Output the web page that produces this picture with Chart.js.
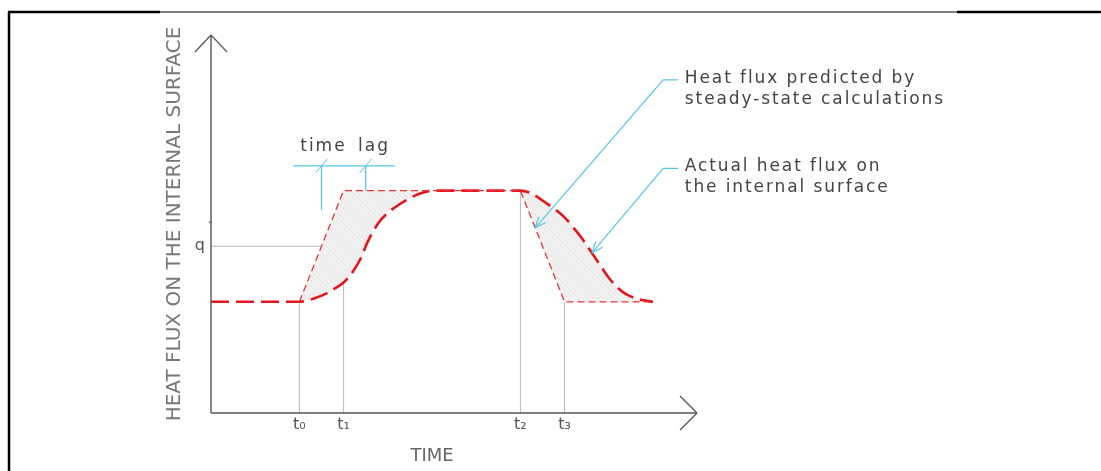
<!DOCTYPE html>
<html><head><meta charset="utf-8">
<script src="https://cdn.jsdelivr.net/npm/chart.js@4.4.1/dist/chart.umd.min.js"></script>
<style>html,body{margin:0;padding:0;background:#fff;}canvas{display:block;}</style>
</head><body>
<canvas id="c" width="1101" height="471"></canvas>
<script>
// ---------------- data (arbitrary units) ----------------
const tickTimes  = [20, 30, 70, 80];
const tickLabels = ['t\u2080', 't\u2081', 't\u2082', 't\u2083'];
const guideTops  = [30, 60, 60, 30];
const qLevel = 45;
const qLabel = 'q';
const xTitle = 'TIME';
const yTitle = 'HEAT FLUX ON THE INTERNAL SURFACE';

const steadyX = [20, 30, 70, 80, 100];
const steadyY = [30, 60, 60, 30, 30];

const actualX = [0, 20, 22, 24, 26, 28, 30, 32, 34, 35, 36, 38, 40, 42, 44, 46, 48, 50,
                 70, 72, 74, 76, 78, 80, 82, 84, 86, 88, 90, 92, 94, 96, 98, 100];
const actualY = [30, 30, 30.4, 31.2, 32.2, 33.6, 35.2, 38, 42, 45, 47.5, 51.5, 54, 55.8, 57.3, 58.6, 59.5, 60,
                 60, 59.5, 58.2, 56.5, 54.8, 52.8, 50, 47, 43.5, 40, 36.5, 33.8, 32, 31, 30.4, 30];

const lagTimes = [25, 35];          // steady / actual crossing of q
const lagBarY = 66.7, lagBarFrom = 18.6, lagBarTo = 41.6, lagTickBottom = 54.8;
const lagText = 'time lag';

const notes = [
  { lines: ['Heat flux predicted by', 'steady-state calculations'], textAt: [107.2, 90.2], lineGap: 5.7,
    leader: [[105.7, 89.9], [102.3, 89.9], [73.3, 49.9]] },
  { lines: ['Actual heat flux on', 'the internal surface'], textAt: [107.2, 66.4], lineGap: 5.7,
    leader: [[105.7, 66.0], [102.3, 66.0], [86.2, 43.2]] }
];

// ---------------- helpers ----------------
const pts = (xs, ys) => xs.map((v, i) => ({ x: v, y: ys[i] }));
const RED = '#e3161e', CYAN = '#55c6e8', GUIDE = '#b9b9b9';

function hatch() {
  const c = document.createElement('canvas'); c.width = 5; c.height = 5;
  const g = c.getContext('2d');
  g.fillStyle = '#f1f1f1'; g.fillRect(0, 0, 5, 5);
  g.strokeStyle = '#e0e0e0'; g.lineWidth = 0.7;
  g.beginPath(); g.moveTo(-1, -1); g.lineTo(6, 6); g.moveTo(-1, 4); g.lineTo(1, 6); g.moveTo(4, -1); g.lineTo(6, 1); g.stroke();
  return g.createPattern(c, 'repeat');
}

const guideSets = tickTimes.map((t, i) => ({
  data: [{ x: t, y: 0 }, { x: t, y: guideTops[i] }], borderColor: GUIDE, borderWidth: 1, fill: false
}));
guideSets.push({ data: [{ x: 0, y: qLevel }, { x: lagTimes[1], y: qLevel }], borderColor: GUIDE, borderWidth: 1, fill: false });

const lagSets = [
  { data: [{ x: lagBarFrom, y: lagBarY }, { x: lagBarTo, y: lagBarY }], borderColor: CYAN, borderWidth: 1.3, fill: false },
  ...lagTimes.map(t => ({ data: [{ x: t, y: lagTickBottom }, { x: t, y: lagBarY }], borderColor: CYAN, borderWidth: 1.3, fill: false }))
];

const deco = {
  id: 'deco',
  afterDraw(chart) {
    const { ctx, scales: { x, y } } = chart;
    const X = v => x.getPixelForValue(v), Y = v => y.getPixelForValue(v);
    const seg = (x1, y1, x2, y2, w, c) => { ctx.beginPath(); ctx.lineWidth = w; ctx.strokeStyle = c; ctx.moveTo(x1, y1); ctx.lineTo(x2, y2); ctx.stroke(); };
    ctx.save();
    ctx.lineCap = 'butt';
    // frame
    seg(9, 12, 9, 471, 2.5, '#000');
    seg(8, 12, 160, 12, 2.5, '#000');
    seg(160, 12, 957, 12, 1.2, '#000');
    seg(957, 12, 1101, 12, 2.5, '#000');
    // axes with arrows
    const x0 = X(0), y0 = Y(0), yTop = Y(y.max), xTip = x.right + 44;
    const AX = '#555';
    seg(x0, y0, x0, yTop, 1.4, AX);
    seg(x0 - 16, yTop + 17, x0, yTop, 1.2, AX); seg(x0, yTop, x0 + 16, yTop + 17, 1.2, AX);
    seg(x0, y0, xTip, y0, 1.4, AX);
    seg(xTip - 17, y0 - 17, xTip, y0, 1.2, AX); seg(xTip, y0, xTip - 17, y0 + 17, 1.2, AX);
    seg(x0 - 2, Y(51.5), x0 + 1, Y(51.5), 1.5, '#666');
    // lag slashes
    lagTimes.forEach(t => seg(X(t) - 6, Y(lagBarY) + 7, X(t) + 6, Y(lagBarY) - 7, 1, CYAN));
    // lag text
    ctx.fillStyle = '#444';
    ctx.font = '17px "DejaVu Sans"';
    ctx.textBaseline = 'middle'; ctx.textAlign = 'left';
    ctx.letterSpacing = '2px';
    ctx.wordSpacing = '4px';
    ctx.fillText(lagText, X(lagBarFrom) + 7, Y(lagBarY) - 19);
    ctx.wordSpacing = '0px';
    // notes with leaders
    notes.forEach(n => {
      const p = n.leader.map(([a, b]) => [X(a), Y(b)]);
      ctx.beginPath(); ctx.lineWidth = 1.2; ctx.strokeStyle = CYAN;
      ctx.moveTo(p[0][0], p[0][1]); for (let i = 1; i < p.length; i++) ctx.lineTo(p[i][0], p[i][1]);
      ctx.stroke();
      const [tx, ty] = p[p.length - 1], [sx, sy] = p[p.length - 2];
      const ang = Math.atan2(sy - ty, sx - tx);
      [-0.38, 0.38].forEach(da => seg(tx, ty, tx + 12 * Math.cos(ang + da), ty + 12 * Math.sin(ang + da), 1.2, CYAN));
      ctx.fillStyle = '#444';
      ctx.font = '17px "DejaVu Sans"';
      ctx.letterSpacing = '1.9px';
      n.lines.forEach((s, i) => ctx.fillText(s, X(n.textAt[0]), Y(n.textAt[1] - i * n.lineGap)));
    });
    ctx.letterSpacing = '0px';
    ctx.restore();
  }
};

Chart.defaults.font.family = "'DejaVu Sans', sans-serif";

new Chart(document.getElementById('c'), {
  type: 'line',
  data: {
    datasets: [
      { label: 'Heat flux predicted by steady-state calculations', data: pts(steadyX, steadyY),
        borderColor: '#e2343a', borderWidth: 1.3, borderDash: [7, 4], fill: false },
      { label: 'Actual heat flux on the internal surface', data: pts(actualX, actualY),
        borderColor: RED, borderWidth: 2.6, borderDash: [18, 7], cubicInterpolationMode: 'monotone',
        fill: { target: 0 }, backgroundColor: hatch() },
      ...lagSets,
      ...guideSets
    ]
  },
  options: {
    responsive: false, animation: false, devicePixelRatio: 1,
    layout: { padding: { top: 35, right: 448, bottom: 0, left: 0 } },
    elements: { point: { radius: 0, hoverRadius: 0 }, line: { tension: 0 } },
    plugins: { legend: { display: false }, tooltip: { enabled: false } },
    scales: {
      x: {
        type: 'linear', min: 0, max: 100,
        grid: { display: false, drawTicks: false }, border: { display: false },
        afterFit: s => { s.height = 58; },
        afterBuildTicks: s => { s.ticks = tickTimes.map(v => ({ value: v })); },
        ticks: { callback: v => tickLabels[tickTimes.indexOf(v)], font: { size: 16 }, color: '#555', padding: 2, maxRotation: 0, autoSkip: false },
        title: { display: true, text: xTitle, font: { size: 18 }, color: '#666', padding: { top: 0, bottom: 4 } }
      },
      y: {
        type: 'linear', min: 0, max: 102,
        grid: { display: false, drawTicks: false }, border: { display: false },
        afterFit: s => { s.width = 211; },
        afterBuildTicks: s => { s.ticks = [{ value: qLevel }]; },
        ticks: { callback: () => qLabel, font: { size: 16 }, color: '#555', padding: 6 },
        title: { display: true, text: yTitle, font: { size: 20 }, color: '#777', padding: { top: 163, bottom: 0 } }
      }
    }
  },
  plugins: [deco]
});
</script>
</body></html>
